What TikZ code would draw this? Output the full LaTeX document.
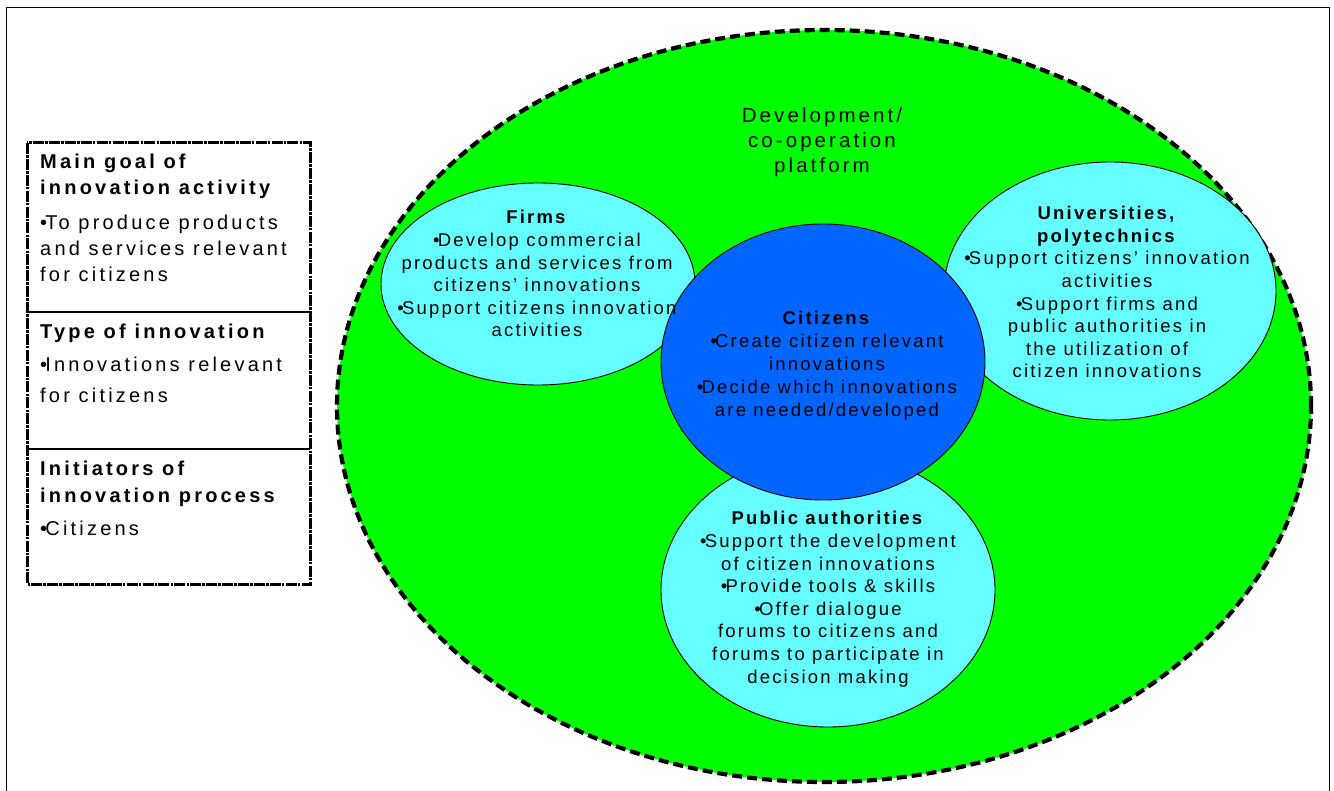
\documentclass[tikz,border=0pt]{standalone}
\usepackage{fontspec}
\setmainfont{Liberation Sans}
\newfontfamily\circfont[LetterSpace=12]{Liberation Sans}
\newfontfamily\platfont[LetterSpace=15]{Liberation Sans}
\newfontfamily\panelfont[LetterSpace=16]{Liberation Sans}
\definecolor{platformgreen}{RGB}{0,255,0}
\definecolor{actorcyan}{RGB}{102,255,255}
\definecolor{citizenblue}{RGB}{0,102,255}
% bullet set tight against the following word
\newcommand{\bul}{•\kern-1.8pt}
% multi-line nodes are anchored at the baseline of their last line
\tikzset{
  actor/.style={fill=actorcyan, draw=black, line width=0.9pt},
  circtext/.style={font=\circfont\fontsize{18.5}{22.6}\selectfont, align=center, inner sep=0pt, anchor=base},
  platformtext/.style={font=\platfont\fontsize{20.5}{25}\selectfont, align=center, inner sep=0pt, anchor=base},
  paneltext/.style={font=\panelfont\fontsize{20}{26}\selectfont, align=left, inner sep=0pt, anchor=base west},
  panelhead/.style={paneltext, font=\panelfont\bfseries\fontsize{20}{26}\selectfont},
  panelframe/.style={draw=black, line width=3pt, dash pattern=on 11pt off 1.2pt on 2.5pt off 1.2pt},
}
\begin{document}
\begin{tikzpicture}[x=1pt, y=-1pt]
\useasboundingbox (0,0) rectangle (1334,791);
% page frame
\draw[line width=1pt] (6,791) -- (6,8) -- (1329,8) -- (1329,791);

% development / co-operation platform
\fill[platformgreen] (824,406) ellipse [x radius=487pt, y radius=376pt];
\draw[line width=4.2pt, dash pattern=on 10pt off 5pt] (824,406) ellipse [x radius=487pt, y radius=376pt];

% actors
\path[actor] (538,284) ellipse [x radius=157pt, y radius=101pt];
\path[actor] (1110,291) ellipse [x radius=166pt, y radius=129pt];
\path[actor] (828,590) ellipse [x radius=167pt, y radius=137pt];
\path[fill=citizenblue, draw=black, line width=0.9pt] (823,362) ellipse [x radius=162pt, y radius=138pt];

\node[platformtext] (platform) at (822,173) {Development/\\co-operation\\platform};
\node[circtext] (firms) at (537,337) {\textbf{Firms}\\\bul Develop commercial\\products and services from\\citizens’ innovations\\\bul Support citizens innovation\\activities};
\node[circtext] (univ) at (1107,378) {\textbf{Universities,}\\\textbf{polytechnics}\\\bul Support citizens’ innovation\\activities\\\bul Support firms and\\public authorities in\\the utilization of\\citizen innovations};
\node[circtext, font=\circfont\fontsize{18.5}{23}\selectfont] (citizens) at (827,417) {\textbf{Citizens}\\\bul Create citizen relevant\\innovations\\\bul Decide which innovations\\are needed/developed};
\node[circtext] (public) at (828,683) {\textbf{Public authorities}\\\bul Support the development\\of citizen innovations\\\bul Provide tools \& skills\\\bul Offer dialogue\\forums to citizens and\\forums to participate in\\decision making};

% side panel
\draw[panelframe] (27,143) rectangle (310,584);
\draw[line width=1.2pt] (27,312) -- (310,312);
\draw[line width=1.2pt] (27,449) -- (310,449);
\node[panelhead] (goalhead) at (40,195) {Main goal of\\innovation activity};
\node[paneltext] (goalbody) at (40,282) {\bul To produce products\\and services relevant\\for citizens};
\node[panelhead] (typehead) at (40,339) {Type of innovation};
\node[paneltext, font=\panelfont\fontsize{20}{31}\selectfont] (typebody) at (40,403) {\bul Innovations relevant\\for citizens};
\node[panelhead] (inithead) at (40,502) {Initiators of\\innovation process};
\node[paneltext] (initbody) at (40,535) {\bul Citizens};
\end{tikzpicture}
\end{document}
